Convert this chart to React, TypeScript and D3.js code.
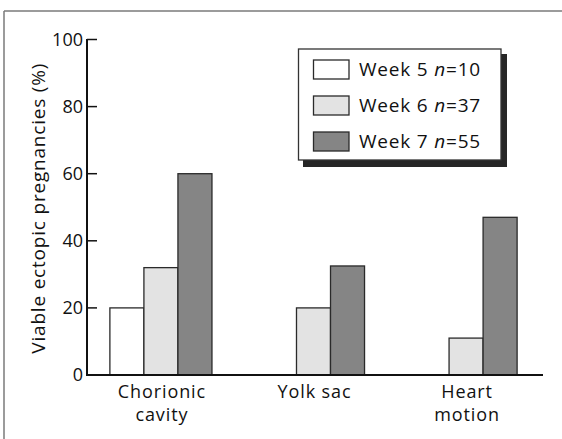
import React from "react";
import * as d3 from "d3";

const categories: string[][] = [["Chorionic", "cavity"], ["Yolk sac"], ["Heart", "motion"]];
const seriesNames = ["Week 5", "Week 6", "Week 7"];
const seriesN = ["10", "37", "55"];
const week5 = [20, 0, 0];
const week6 = [32, 20, 11];
const week7 = [60, 32.5, 47];
const yTicks = [0, 20, 40, 60, 80, 100];
const yTitle = "Viable ectopic pregnancies (%)";

const W = 562;
const H = 439;
const FONT = "'Open Sans', 'DejaVu Sans', sans-serif";
const fills = ["#ffffff", "#e3e3e3", "#858585"];

export default function App() {
  const seriesValues = [week5, week6, week7];
  const catKeys = categories.map((c) => c.join(" "));
  const x = d3.scaleBand<string>().domain(catKeys).range([87, 540]).paddingInner(0.331).paddingOuter(0.15);
  const xs = d3.scaleBand<string>().domain(seriesNames).range([0, x.bandwidth()]).padding(0);
  const y = d3.scaleLinear().domain([0, 100]).range([375, 39.5]);
  const axisX = x.range()[0];
  const legendRow = d3.scaleLinear().domain([0, 2]).range([69.5, 141.5]);

  return (
    <svg width={W} height={H} style={{ position: "fixed", left: 0, top: 0, background: "#fff" }} fontFamily={FONT}>
      <rect x={0} y={0} width={W} height={H} fill="#fff" />
      {/* frame */}
      <line x1={4} y1={11} x2={W} y2={11} stroke="#7a7a7a" strokeWidth={1.5} />
      <line x1={4} y1={11} x2={4} y2={H} stroke="#7a7a7a" strokeWidth={1.5} />

      {/* bars */}
      {catKeys.map((c, ci) => (
        <g key={c} transform={`translate(${x(c)},0)`}>
          {seriesNames.map((s, si) => {
            const v = seriesValues[si][ci];
            if (!v) return null;
            return (
              <rect
                key={s}
                x={xs(s)}
                y={y(v)}
                width={xs.bandwidth()}
                height={y(0) - y(v)}
                fill={fills[si]}
                stroke="#2a2a2a"
                strokeWidth={1.3}
              />
            );
          })}
        </g>
      ))}

      {/* y axis */}
      <line x1={axisX} y1={y(0)} x2={axisX} y2={y(100) - 0.5} stroke="#111" strokeWidth={2} />
      {yTicks.map((t) => (
        <g key={t}>
          <line x1={axisX} x2={axisX + 10} y1={y(t)} y2={y(t)} stroke="#111" strokeWidth={1.5} />
          <text x={axisX - 4} y={y(t)} dy="0.36em" textAnchor="end" fontSize={18} fill="#111">
            {t}
          </text>
        </g>
      ))}
      {/* baseline */}
      <line x1={axisX - 1} x2={x.range()[1] + 3} y1={y(0)} y2={y(0)} stroke="#111" strokeWidth={2} />

      {/* category labels */}
      {categories.map((lines, ci) =>
        lines.map((l, li) => (
          <text
            key={ci + "-" + li}
            x={(x(catKeys[ci]) as number) + x.bandwidth() / 2 + 1}
            y={398 + li * 23}
            textAnchor="middle"
            fontSize={18}
            letterSpacing={0.9}
            fill="#111"
          >
            {l}
          </text>
        ))
      )}

      {/* y title */}
      <text
        transform={`translate(45,${(y(0) + y(100)) / 2 + 1}) rotate(-90)`}
        textAnchor="middle"
        fontSize={19}
        letterSpacing={0.8}
        fill="#111"
      >
        {yTitle}
      </text>

      {/* legend */}
      <rect x={303} y={54} width={204} height={113} fill="#262626" />
      <rect x={298.5} y={49} width={202.5} height={111} fill="#fff" stroke="#333" strokeWidth={1.3} />
      {seriesNames.map((s, si) => (
        <g key={s}>
          <rect
            x={313.5}
            y={legendRow(si) - 9.5}
            width={35.5}
            height={19}
            fill={fills[si]}
            stroke="#2a2a2a"
            strokeWidth={1.3}
          />
          <text x={359} y={legendRow(si) + 6.2} fontSize={19} letterSpacing={0.8} fill="#111">
            {s + " "}
            <tspan fontStyle="italic">n</tspan>={seriesN[si]}
          </text>
        </g>
      ))}
    </svg>
  );
}
